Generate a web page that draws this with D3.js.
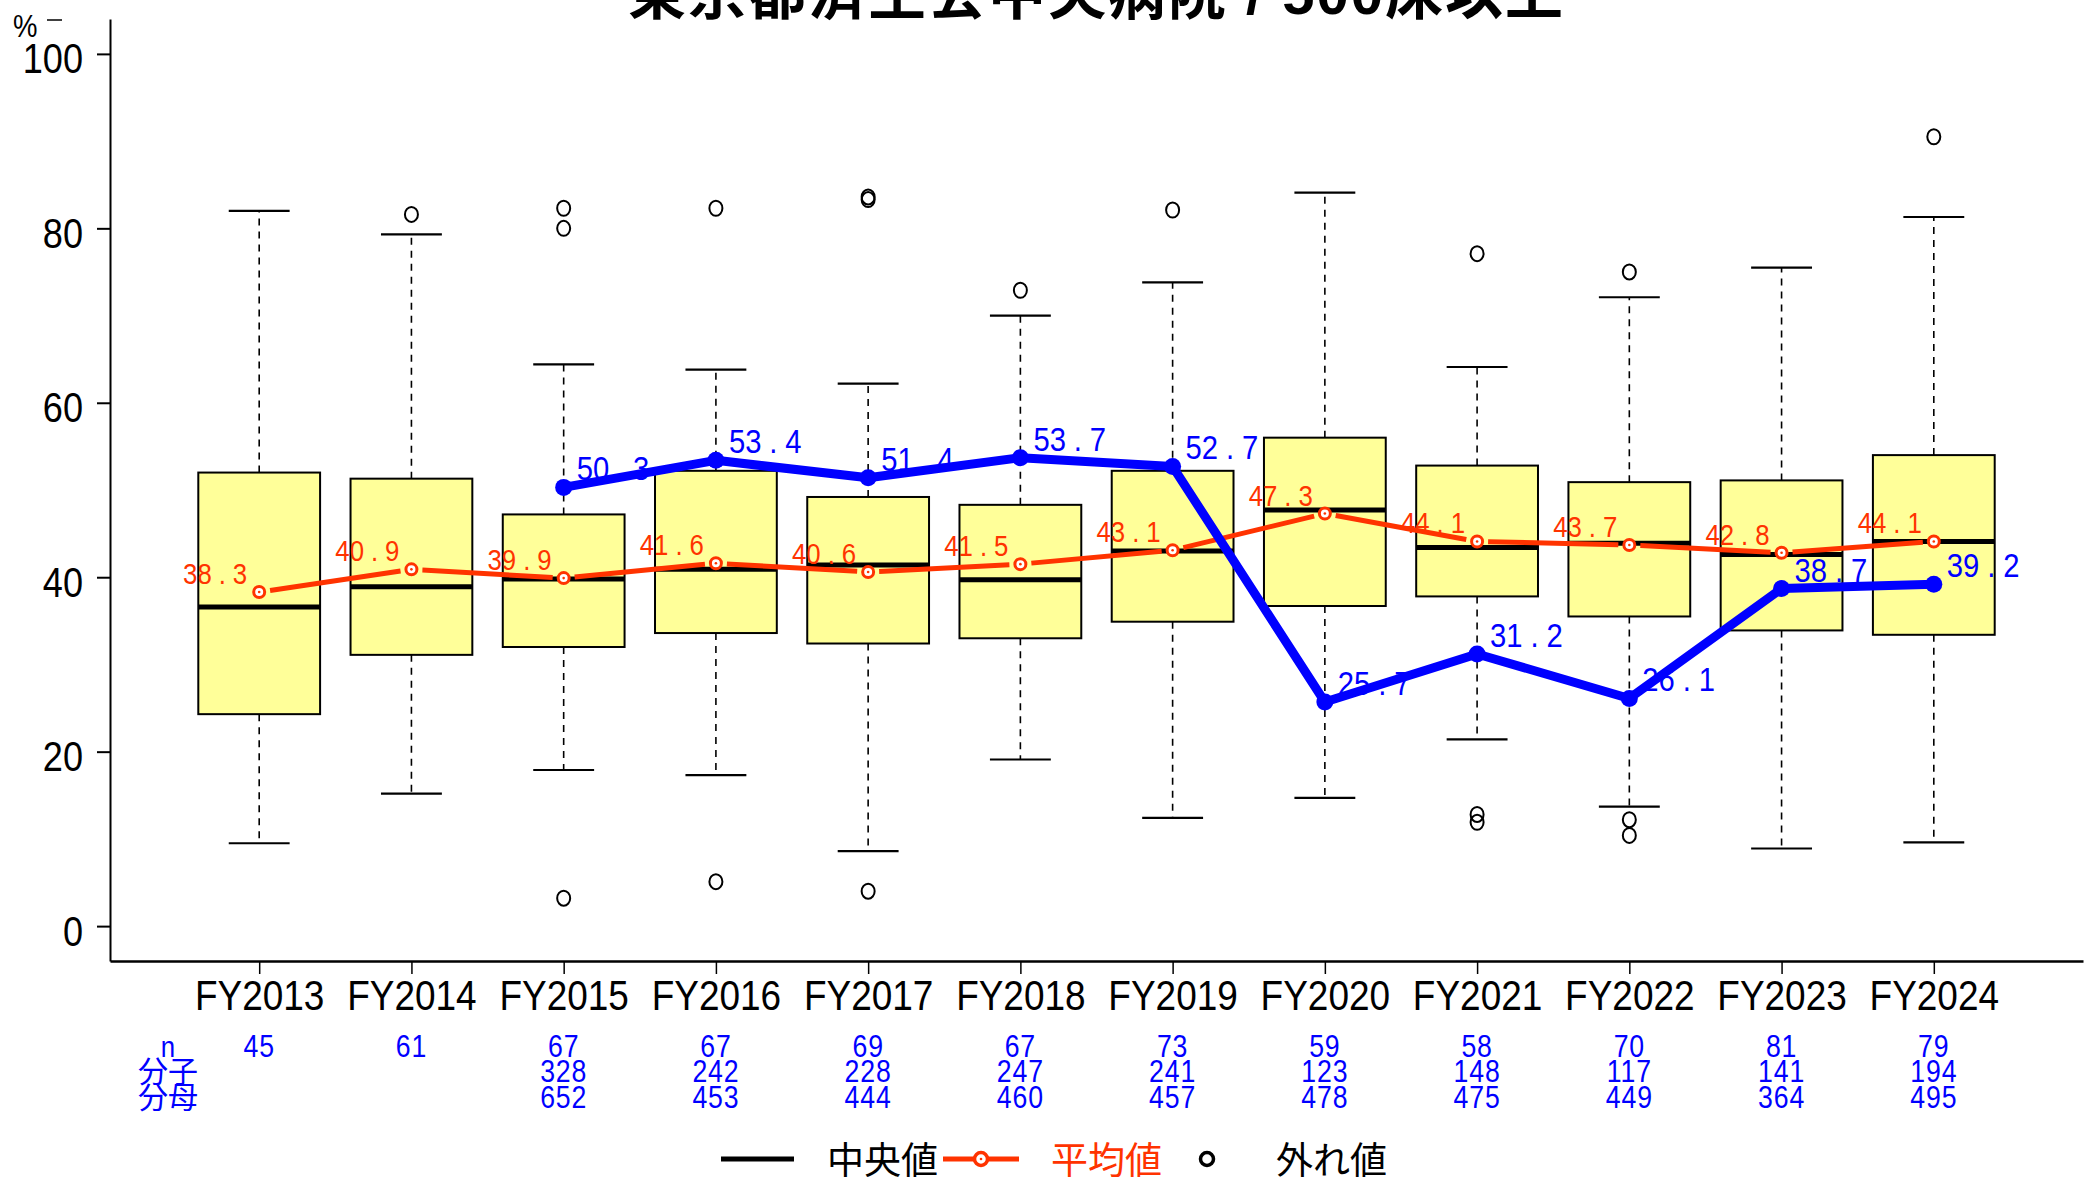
<!DOCTYPE html>
<html>
<head>
<meta charset="utf-8">
<script src="https://cdn.jsdelivr.net/npm/d3@7"></script>
<style>
  html, body { margin: 0; padding: 0; background: #fff; }
  svg { display: block; }
  text { font-family: "Liberation Sans", Arial, "Noto Sans CJK JP", sans-serif; }
  .cjk { font-family: "Liberation Sans", "Noto Sans CJK JP", sans-serif; }
</style>
</head>
<body>
<svg id="chart" width="2089" height="1180"></svg>
<script>
// ---------------- data ----------------
const titleText = "東京都済生会中央病院 / 500床以上";
const categories = ["FY2013","FY2014","FY2015","FY2016","FY2017","FY2018","FY2019","FY2020","FY2021","FY2022","FY2023","FY2024"];
const q1Values      = [24.3, 31.1, 32.0, 33.6, 32.4, 33.0, 34.9, 36.7, 37.8, 35.5, 33.9, 33.4];
const medianValues  = [36.6, 38.9, 39.8, 40.9, 41.4, 39.7, 43.0, 47.7, 43.4, 43.9, 42.6, 44.1];
const q3Values      = [52.0, 51.3, 47.2, 52.2, 49.2, 48.3, 52.2, 56.0, 52.8, 50.9, 51.1, 54.0];
const whiskerLow    = [9.5, 15.2, 17.9, 17.3, 8.6, 19.1, 12.4, 14.7, 21.4, 13.7, 8.9, 9.6];
const whiskerHigh   = [82.0, 79.3, 64.4, 63.8, 62.2, 70.0, 73.8, 84.1, 64.1, 72.1, 75.5, 81.3];
const outlierValues = [[], [81.6], [82.3, 80.0, 3.2], [82.3, 5.1], [83.6, 83.3, 4.0], [72.9], [82.1], [], [77.1, 12.8, 11.9], [75.0, 12.2, 10.4], [], [90.5]];
const meanValues    = [38.3, 40.9, 39.9, 41.6, 40.6, 41.5, 43.1, 47.3, 44.1, 43.7, 42.8, 44.1];
const hospitalValues= [null, null, 50.3, 53.4, 51.4, 53.7, 52.7, 25.7, 31.2, 26.1, 38.7, 39.2];
const nValues       = [45, 61, 67, 67, 69, 67, 73, 59, 58, 70, 81, 79];
const numerValues   = [null, null, 328, 242, 228, 247, 241, 123, 148, 117, 141, 194];
const denomValues   = [null, null, 652, 453, 444, 460, 457, 478, 475, 449, 364, 495];
const yTicks        = [0, 20, 40, 60, 80, 100];
const rowLabels     = ["n", "分子", "分母"];
const legendLabels  = ["中央値", "平均値", "外れ値"];

// ---------------- layout ----------------
const plotLeft = 110, plotRight = 2083, plotTop = 19, plotBottom = 961;
const BLUE = "#0000ff", RED = "#ff3300", BOXFILL = "#ffff99";
const SX = 0.86; // horizontal squeeze to mimic the narrow Latin face

const svg = d3.select("#chart");

const x = d3.scalePoint().domain(categories).range([plotLeft, plotRight]).padding(0.98);
const step = x.step();
const y = d3.scaleLinear().domain([-4, 104]).range([plotBottom, plotTop]);

function narrowAt(sel, tx, ty) {
  return sel.attr("x", 0).attr("y", 0).attr("dy", 0)
    .attr("transform", `translate(${tx},${ty}) scale(${SX},1)`);
}

// ---------------- title ----------------
svg.append("text").attr("class", "cjk")
  .attr("x", (plotLeft + plotRight) / 2).attr("y", 14)
  .attr("text-anchor", "middle").attr("font-size", 58).attr("font-weight", "bold")
  .attr("letter-spacing", 2)
  .text(titleText);

// ---------------- axes ----------------
const yAxis = svg.append("g").attr("transform", `translate(${plotLeft},0)`)
  .call(d3.axisLeft(y).tickValues(yTicks).tickSize(13).tickSizeOuter(0));
yAxis.select(".domain").attr("stroke-width", 2);
yAxis.selectAll(".tick line").attr("stroke-width", 2);
yAxis.selectAll(".tick text").attr("font-size", 42).attr("fill", "#000")
  .each(function () { narrowAt(d3.select(this), -27, 19); });

const xAxis = svg.append("g").attr("transform", `translate(0,${plotBottom})`)
  .call(d3.axisBottom(x).tickSize(13).tickSizeOuter(0));
xAxis.select(".domain").attr("stroke-width", 2.5);
xAxis.selectAll(".tick line").attr("stroke-width", 1.5);
xAxis.selectAll(".tick text").attr("font-size", 43).attr("fill", "#000")
  .each(function () { narrowAt(d3.select(this), 0, 49); });

// "%" unit label
narrowAt(svg.append("text").attr("font-size", 32).text("%"), 13, 37);
svg.append("line").attr("x1", 47).attr("x2", 62).attr("y1", 20).attr("y2", 20).attr("stroke", "#000").attr("stroke-width", 1.5);

// ---------------- boxplots ----------------
const boxW = step * 0.8, capW = step * 0.4;
const boxes = svg.append("g");
categories.forEach((c, i) => {
  const cx = x(c);
  const g = boxes.append("g");
  g.append("line").attr("x1", cx).attr("x2", cx).attr("y1", y(q3Values[i])).attr("y2", y(whiskerHigh[i]))
    .attr("stroke", "#000").attr("stroke-width", 1.6).attr("stroke-dasharray", "7,6");
  g.append("line").attr("x1", cx).attr("x2", cx).attr("y1", y(q1Values[i])).attr("y2", y(whiskerLow[i]))
    .attr("stroke", "#000").attr("stroke-width", 1.6).attr("stroke-dasharray", "7,6");
  [whiskerHigh[i], whiskerLow[i]].forEach(v => {
    g.append("line").attr("x1", cx - capW / 2).attr("x2", cx + capW / 2).attr("y1", y(v)).attr("y2", y(v))
      .attr("stroke", "#000").attr("stroke-width", 2.2);
  });
  g.append("rect").attr("x", cx - boxW / 2).attr("width", boxW)
    .attr("y", y(q3Values[i])).attr("height", y(q1Values[i]) - y(q3Values[i]))
    .attr("fill", BOXFILL).attr("stroke", "#000").attr("stroke-width", 2);
  g.append("line").attr("x1", cx - boxW / 2).attr("x2", cx + boxW / 2)
    .attr("y1", y(medianValues[i])).attr("y2", y(medianValues[i]))
    .attr("stroke", "#000").attr("stroke-width", 5);
  outlierValues[i].forEach(v => {
    g.append("ellipse").attr("cx", cx).attr("cy", y(v)).attr("rx", 6.5).attr("ry", 7.5)
      .attr("fill", "none").attr("stroke", "#000").attr("stroke-width", 2);
  });
});

// ---------------- value label helper ----------------
function valueLabel(sel, v) {
  const s = v.toFixed(1).split(".");
  sel.append("tspan").text(s[0]);
  sel.append("tspan").attr("dx", "0.27em").text(".");
  sel.append("tspan").attr("dx", "0.27em").text(s[1]);
}

// ---------------- mean line (red) ----------------
const meanG = svg.append("g");
categories.forEach((c, i) => {
  const t = meanG.append("text").attr("text-anchor", "end").attr("font-size", 30).attr("fill", RED);
  valueLabel(t, meanValues[i]);
  narrowAt(t, x(c) - 12, y(meanValues[i]) - 8);
});
const gap = 11;
for (let i = 0; i < categories.length - 1; i++) {
  const x1 = x(categories[i]), y1 = y(meanValues[i]);
  const x2 = x(categories[i + 1]), y2 = y(meanValues[i + 1]);
  const len = Math.hypot(x2 - x1, y2 - y1);
  const ux = (x2 - x1) / len, uy = (y2 - y1) / len;
  meanG.append("line")
    .attr("x1", x1 + ux * gap).attr("y1", y1 + uy * gap)
    .attr("x2", x2 - ux * gap).attr("y2", y2 - uy * gap)
    .attr("stroke", RED).attr("stroke-width", 5);
}
categories.forEach((c, i) => {
  meanG.append("circle").attr("cx", x(c)).attr("cy", y(meanValues[i])).attr("r", 5.5)
    .attr("fill", "#fff").attr("stroke", RED).attr("stroke-width", 3);
  meanG.append("circle").attr("cx", x(c)).attr("cy", y(meanValues[i])).attr("r", 1.3).attr("fill", RED);
});

// ---------------- hospital line (blue) ----------------
const hospG = svg.append("g");
categories.forEach((c, i) => {
  if (hospitalValues[i] == null) return;
  const t = hospG.append("text").attr("font-size", 34).attr("fill", BLUE);
  valueLabel(t, hospitalValues[i]);
  narrowAt(t, x(c) + 13, y(hospitalValues[i]) - 7);
});
const hospLine = d3.line().defined(d => d.v != null).x(d => x(d.c)).y(d => y(d.v));
const hospData = categories.map((c, i) => ({ c, v: hospitalValues[i] }));
hospG.append("path").datum(hospData).attr("d", hospLine)
  .attr("fill", "none").attr("stroke", BLUE).attr("stroke-width", 9).attr("stroke-linejoin", "round");
hospG.selectAll("circle").data(hospData.filter(d => d.v != null)).join("circle")
  .attr("cx", d => x(d.c)).attr("cy", d => y(d.v)).attr("r", 8.5).attr("fill", BLUE);

// ---------------- n / 分子 / 分母 rows ----------------
const rowY = [1057, 1082, 1108];
const rows = [nValues, numerValues, denomValues];
const tableG = svg.append("g").attr("fill", BLUE);
rowLabels.forEach((lab, r) => {
  const lt = tableG.append("text").attr("class", "cjk").attr("x", 168).attr("y", rowY[r])
    .attr("text-anchor", "middle").attr("font-size", 30).text(lab);
  if (r === 0) narrowAt(lt, 168, rowY[r]);
  categories.forEach((c, i) => {
    if (rows[r][i] == null) return;
    const t = tableG.append("text").attr("text-anchor", "middle").attr("font-size", 31)
      .attr("letter-spacing", 1).text(rows[r][i]);
    narrowAt(t, x(c), rowY[r]);
  });
});

// ---------------- legend ----------------
const legY = 1159, legBase = 1174;
const leg = svg.append("g");
leg.append("line").attr("x1", 721).attr("x2", 794).attr("y1", legY).attr("y2", legY)
  .attr("stroke", "#000").attr("stroke-width", 5);
leg.append("text").attr("class", "cjk").attr("x", 827).attr("y", legBase).attr("font-size", 37).text(legendLabels[0]);
leg.append("line").attr("x1", 943).attr("x2", 1019).attr("y1", legY).attr("y2", legY)
  .attr("stroke", RED).attr("stroke-width", 5);
leg.append("circle").attr("cx", 981).attr("cy", legY).attr("r", 6.5)
  .attr("fill", "#fff").attr("stroke", RED).attr("stroke-width", 3.5);
leg.append("circle").attr("cx", 981).attr("cy", legY).attr("r", 1.3).attr("fill", RED);
leg.append("text").attr("class", "cjk").attr("x", 1051).attr("y", legBase).attr("font-size", 37).attr("fill", RED).text(legendLabels[1]);
leg.append("circle").attr("cx", 1207).attr("cy", legY).attr("r", 6.5)
  .attr("fill", "none").attr("stroke", "#000").attr("stroke-width", 3.5);
leg.append("text").attr("class", "cjk").attr("x", 1276).attr("y", legBase).attr("font-size", 37).text(legendLabels[2]);
</script>
</body>
</html>
